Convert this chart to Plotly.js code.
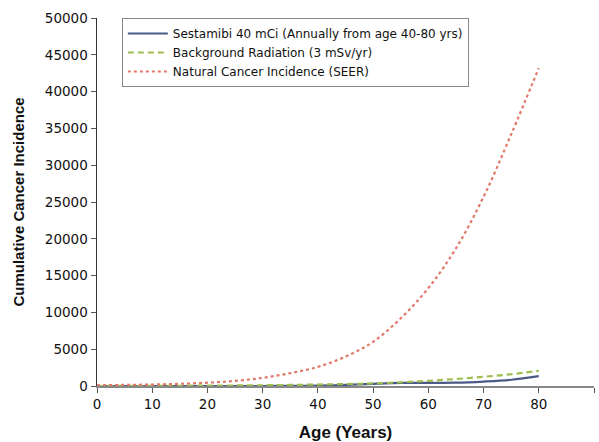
<!DOCTYPE html>
<html>
<head>
<meta charset="utf-8">
<script src="https://cdn.plot.ly/plotly-3.0.1.min.js"></script>
<style>html,body{margin:0;padding:0;background:#fff;}#chart{width:599px;height:442px;}</style>
</head>
<body>
<div id="chart"></div>
<script>
var ages = [0, 5, 10, 15, 20, 25, 30, 35, 40, 45, 50, 55, 60, 65, 70, 75, 80];
var sestamibi = [0, 0, 0, 0, 0, 0, 0, 20, 50, 150, 300, 420, 430, 450, 600, 850, 1350];
var background = [0, 10, 20, 35, 50, 70, 100, 140, 200, 270, 350, 500, 700, 950, 1250, 1600, 2050];
var natural = [100, 150, 200, 300, 450, 700, 1100, 1750, 2600, 4000, 6000, 9200, 13300, 18700, 25700, 34200, 43200];
var seriesNames = ["Sestamibi 40 mCi (Annually from age 40-80 yrs)", "Background Radiation (3 mSv/yr)", "Natural Cancer Incidence (SEER)"];

var traces = [
  {x: ages, y: sestamibi, name: seriesNames[0], mode: "lines", line: {color: "#4b5a86", width: 2.2, shape: "spline"}},
  {x: ages, y: background, name: seriesNames[1], mode: "lines", line: {color: "#9dbd4e", width: 2.2, dash: "6px,4px", shape: "spline"}},
  {x: ages, y: natural, name: seriesNames[2], mode: "lines", line: {color: "#e2786a", width: 2.2, dash: "3px,3px", shape: "spline"}}
];

var layout = {
  width: 599, height: 442,
  margin: {l: 97, r: 5, t: 18, b: 56},
  paper_bgcolor: "#fff", plot_bgcolor: "#fff",
  font: {family: "DejaVu Sans, sans-serif", color: "#111", size: 11},
  showlegend: true,
  legend: {x: 0.05, y: 1, xanchor: "left", yanchor: "top", bgcolor: "#fff", bordercolor: "#888", borderwidth: 1,
           font: {size: 12, family: "DejaVu Sans, sans-serif"}, tracegroupgap: 0, itemwidth: 40},
  xaxis: {
    range: [0, 90], dtick: 10, tick0: 0, showgrid: false, zeroline: false,
    showline: true, linecolor: "#888", linewidth: 1.5, ticks: "outside", ticklen: 5, tickcolor: "#555",
    tickfont: {size: 13.5, family: "DejaVu Sans, sans-serif"},
    title: {text: "<b>Age (Years)</b>", font: {size: 17, family: "Liberation Sans, Arial, sans-serif"}, standoff: 16}
  },
  yaxis: {
    range: [0, 50000], dtick: 5000, tick0: 0, showgrid: false, zeroline: false,
    showline: true, linecolor: "#333", linewidth: 1.5, ticks: "outside", ticklen: 5, tickcolor: "#555",
    tickformat: "d", tickfont: {size: 13.5, family: "DejaVu Sans, sans-serif"},
    title: {text: "<b>Cumulative Cancer Incidence</b>", font: {size: 15, family: "Liberation Sans, Arial, sans-serif"}, standoff: 16}
  }
};

Plotly.newPlot("chart", traces, layout, {displayModeBar: false, staticPlot: true});
</script>
</body>
</html>
